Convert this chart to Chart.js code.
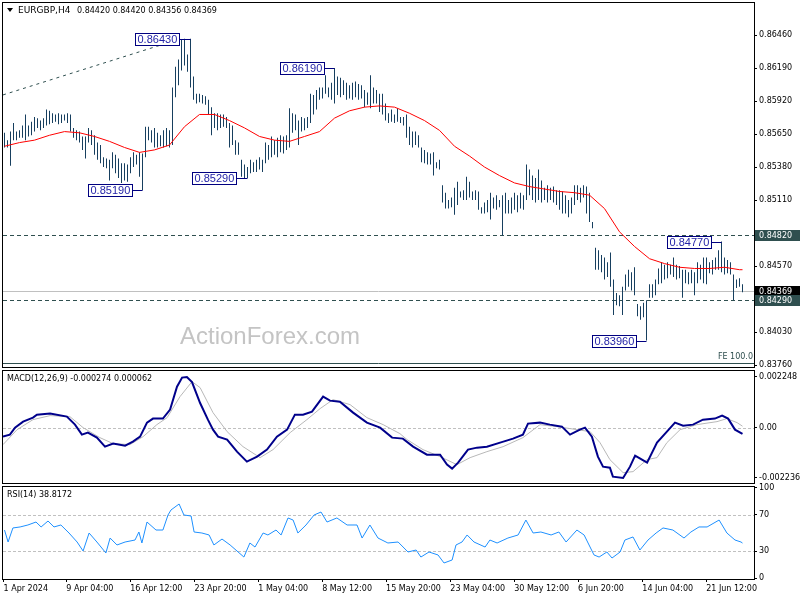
<!DOCTYPE html>
<html>
<head>
<meta charset="utf-8">
<script src="https://cdn.jsdelivr.net/npm/chart.js@4/dist/chart.umd.min.js"></script>
<style>
    html, body { margin: 0; padding: 0; background: #fff; }
    #wrap { position: relative; width: 800px; height: 600px; }
    #wrap canvas { position: absolute; left: 0; top: 0; }
</style>
</head>
<body>
<div id="wrap">
    <canvas id="price" width="800" height="600"></canvas>
    <canvas id="macd" width="800" height="600"></canvas>
    <canvas id="rsi" width="800" height="600"></canvas>
</div>
<script>
const symbolName = 'EURGBP,H4'
const lastBar = [0.84420, 0.84420, 0.84356, 0.84369] // open, high, low, close

// H4 bars, high / low
const highs = [
    0.8566, 0.8560, 0.8567, 0.8574, 0.8567, 0.8568, 0.8572, 0.8581, 0.8572, 0.8575,
    0.8579, 0.8578, 0.8576, 0.8578, 0.8585, 0.8584, 0.8582, 0.8581, 0.8582, 0.8581,
    0.8581, 0.8582, 0.8581, 0.8570, 0.8568, 0.8567, 0.8563, 0.8563, 0.8570, 0.8568,
    0.8564, 0.8558, 0.8556, 0.8546, 0.8545, 0.8544, 0.8550, 0.8548, 0.8545, 0.8541,
    0.8541, 0.8540, 0.8546, 0.8550, 0.8548, 0.8550, 0.8549, 0.8571, 0.8571, 0.8568,
    0.8570, 0.8566, 0.8564, 0.8568, 0.8570, 0.8568, 0.8603, 0.8620, 0.8626, 0.8642,
    0.8643, 0.8630, 0.8643, 0.8612, 0.8598, 0.8598, 0.8597, 0.8596, 0.8593, 0.8587,
    0.8582, 0.8582, 0.8581, 0.8581, 0.8579, 0.8574, 0.8572, 0.8560, 0.8558, 0.8544,
    0.8540, 0.8538, 0.8544, 0.8542, 0.8544, 0.8546, 0.8544, 0.8558, 0.8556, 0.8563,
    0.8560, 0.8562, 0.8564, 0.8563, 0.8564, 0.8586, 0.8582, 0.8581, 0.8576, 0.8579,
    0.8578, 0.8579, 0.8598, 0.8597, 0.8601, 0.8603, 0.8603, 0.8613, 0.8603, 0.8607,
    0.8619, 0.8612, 0.8611, 0.8609, 0.8607, 0.8605, 0.8607, 0.8608, 0.8606, 0.8605,
    0.8601, 0.8599, 0.8613, 0.8603, 0.8601, 0.8598, 0.8598, 0.8590, 0.8582, 0.8585,
    0.8581, 0.8586, 0.8579, 0.8579, 0.8581, 0.8571, 0.8567, 0.8567, 0.8564, 0.8554,
    0.8552, 0.8550, 0.8549, 0.8550, 0.8542, 0.8544, 0.8523, 0.8517, 0.8511, 0.8513,
    0.8521, 0.8526, 0.8518, 0.8519, 0.8530, 0.8526, 0.8518, 0.8519, 0.8518, 0.8505,
    0.8509, 0.8511, 0.8517, 0.8513, 0.8515, 0.8511, 0.8515, 0.8517, 0.8511, 0.8513,
    0.8517, 0.8515, 0.8517, 0.8515, 0.8540, 0.8536, 0.8531, 0.8529, 0.8536, 0.8527,
    0.8521, 0.8523, 0.8521, 0.8522, 0.8519, 0.8519, 0.8518, 0.8515, 0.8511, 0.8513,
    0.8523, 0.8523, 0.8521, 0.8523, 0.8522, 0.8517, 0.8493, 0.8472, 0.8470, 0.8466,
    0.8464, 0.8460, 0.8468, 0.8446, 0.8435, 0.8433, 0.8440, 0.8450, 0.8454, 0.8452,
    0.8456, 0.8426, 0.8424, 0.8427, 0.8429, 0.8442, 0.8442, 0.8446, 0.8455, 0.8460,
    0.8458, 0.8460, 0.8458, 0.8464, 0.8458, 0.8457, 0.8454, 0.8454, 0.8452, 0.8454,
    0.8452, 0.8460, 0.8458, 0.8464, 0.8464, 0.8460, 0.8462, 0.8464, 0.8470, 0.8477,
    0.8464, 0.8462, 0.8460, 0.8450, 0.8446, 0.8447, 0.8442
]
const lows = [
    0.8554, 0.8554, 0.8539, 0.8560, 0.8560, 0.8562, 0.8562, 0.8560, 0.8563, 0.8564,
    0.8567, 0.8570, 0.8568, 0.8570, 0.8572, 0.8573, 0.8574, 0.8575, 0.8573, 0.8574,
    0.8576, 0.8574, 0.8567, 0.8562, 0.8560, 0.8558, 0.8552, 0.8545, 0.8558, 0.8556,
    0.8548, 0.8544, 0.8541, 0.8538, 0.8537, 0.8527, 0.8537, 0.8533, 0.8529, 0.8525,
    0.8527, 0.8526, 0.8533, 0.8538, 0.8540, 0.8530, 0.8519, 0.8546, 0.8560, 0.8558,
    0.8554, 0.8554, 0.8555, 0.8554, 0.8555, 0.8554, 0.8556, 0.8595, 0.8605, 0.8617,
    0.8621, 0.8616, 0.8603, 0.8593, 0.8590, 0.8591, 0.8590, 0.8589, 0.8581, 0.8564,
    0.8570, 0.8568, 0.8570, 0.8571, 0.8570, 0.8554, 0.8556, 0.8548, 0.8548, 0.8530,
    0.8529, 0.8529, 0.8533, 0.8534, 0.8534, 0.8536, 0.8534, 0.8541, 0.8544, 0.8546,
    0.8548, 0.8546, 0.8550, 0.8549, 0.8552, 0.8554, 0.8566, 0.8568, 0.8556, 0.8567,
    0.8568, 0.8570, 0.8574, 0.8581, 0.8585, 0.8593, 0.8594, 0.8598, 0.8595, 0.8593,
    0.8590, 0.8597, 0.8595, 0.8597, 0.8593, 0.8594, 0.8593, 0.8595, 0.8593, 0.8594,
    0.8587, 0.8589, 0.8586, 0.8590, 0.8590, 0.8583, 0.8581, 0.8576, 0.8574, 0.8575,
    0.8574, 0.8575, 0.8574, 0.8572, 0.8562, 0.8556, 0.8554, 0.8556, 0.8554, 0.8542,
    0.8541, 0.8540, 0.8540, 0.8531, 0.8537, 0.8536, 0.8509, 0.8504, 0.8504, 0.8505,
    0.8499, 0.8507, 0.8513, 0.8511, 0.8511, 0.8513, 0.8511, 0.8511, 0.8503, 0.8500,
    0.8500, 0.8501, 0.8495, 0.8504, 0.8503, 0.8505, 0.8482, 0.8500, 0.8500, 0.8500,
    0.8503, 0.8501, 0.8504, 0.8503, 0.8511, 0.8515, 0.8511, 0.8509, 0.8511, 0.8509,
    0.8511, 0.8509, 0.8511, 0.8509, 0.8507, 0.8503, 0.8500, 0.8500, 0.8497, 0.8500,
    0.8507, 0.8511, 0.8509, 0.8513, 0.8500, 0.8493, 0.8488, 0.8454, 0.8454, 0.8452,
    0.8446, 0.8448, 0.8440, 0.8417, 0.8425, 0.8424, 0.8417, 0.8437, 0.8440, 0.8437,
    0.8433, 0.8416, 0.8413, 0.8415, 0.8396, 0.8431, 0.8431, 0.8433, 0.8442, 0.8443,
    0.8446, 0.8447, 0.8450, 0.8448, 0.8446, 0.8447, 0.8431, 0.8443, 0.8442, 0.8443,
    0.8433, 0.8443, 0.8446, 0.8443, 0.8442, 0.8451, 0.8450, 0.8454, 0.8454, 0.8452,
    0.8450, 0.8451, 0.8450, 0.8429, 0.8439, 0.8440, 0.84356
]

// moving average read every 5 bars (last point = last bar)
const lineStep = 5
const maValues = [
    0.8555, 0.8558, 0.8560, 0.8564, 0.8567, 0.8566, 0.8563, 0.8559, 0.8554, 0.8550,
    0.8552, 0.8556, 0.8571, 0.8581, 0.8581, 0.8576, 0.8570, 0.8563, 0.8560, 0.8559,
    0.8563, 0.8567, 0.8578, 0.8584, 0.8587, 0.8588, 0.8587, 0.8582, 0.8576, 0.8568,
    0.8555, 0.8547, 0.8538, 0.8531, 0.8525, 0.8522, 0.8520, 0.8518, 0.8517, 0.8515,
    0.8504, 0.8485, 0.8473, 0.8463, 0.8459, 0.8456, 0.8455, 0.8455, 0.8456, 0.8454, 0.8454
]

// MACD(12,26,9): bar position and value
const macdAt = [
    -0.5, 1.8, 3.5, 6.2, 9.5, 10.8, 15.2, 20.8, 23.5, 25.8,
    27.8, 30.8, 33.5, 36.2, 40.2, 42.8, 45.2, 47.5, 49.5, 52.8,
    55.2, 57.5, 59.2, 60.8, 62.5, 65.2, 67.8, 69.5, 71.2, 74.2,
    77.5, 80.8, 84.2, 87.5, 90.8, 94.2, 96.8, 99.5, 102.5, 106.2,
    108.5, 111.8, 116.2, 120.8, 125.2, 129.2, 132.8, 136.2, 140.8, 145.2,
    147.5, 149.2, 151.2, 154.5, 157.5, 160.8, 165.2, 169.5, 172.8, 174.5,
    178.5, 181.8, 185.8, 188.5, 191.8, 193.5, 195.8, 197.8, 199.5, 201.8,
    202.8, 206.2, 208.5, 210.2, 212.5, 214.2, 217.5, 220.8, 223.5, 226.2,
    229.5, 232.8, 236.8, 239.2, 241.2, 243.5, 246
]
const macdValues = [
    -0.0004, -0.000311, 0, 0.000266, 0.000444, 0.000577, 0.000622, 0.000488, 0.000133, -0.000311,
    -0.000222, -0.000444, -0.000844, -0.00071, -0.000799, -0.000622, -0.0004, 0.000222, 0.0004, 0.0004,
    0.000799, 0.00182, 0.00222, 0.002248, 0.002024, 0.001092, 0.000355, -0.000089, -0.0004, -0.000533,
    -0.001066, -0.00151, -0.001288, -0.000977, -0.0004, -0.000089, 0.000577, 0.000577, 0.00071, 0.001377,
    0.001199, 0.001154, 0.000666, 0.000222, 0, -0.000444, -0.000488, -0.000844, -0.001199, -0.001199,
    -0.001643, -0.00182, -0.001554, -0.000977, -0.000888, -0.000844, -0.000666, -0.000488, -0.000311, 0.000178,
    0.000222, 0.000133, 0.000044, -0.000311, -0.000089, 0, -0.0004, -0.001288, -0.001732, -0.001776,
    -0.002176, -0.002236, -0.001732, -0.001243, -0.001421, -0.001554, -0.000666, -0.000178, 0.000222, 0.000089,
    0.000133, 0.000355, 0.0004, 0.000533, 0.0004, -0.000089, -0.000274
]
const signalAt = [
    -0.5, 4.2, 9.5, 15.2, 21.8, 26.2, 31.8, 36.2, 41.8, 46.2,
    50.8, 54.2, 58.5, 62.5, 65.2, 69.5, 74.2, 79.5, 85.2, 89.5,
    95.2, 100.8, 105.2, 109.5, 115.2, 120.8, 126.2, 131.8, 134.2, 139.5,
    145.2, 150.8, 155.2, 160.8, 166.2, 172.8, 178.5, 184.2, 190.8, 195.2,
    198.5, 201.8, 206.2, 209.5, 214.2, 217.5, 220.8, 225.2, 230.8, 237.5,
    240.8, 244.2, 246
]
const signalValues = [
    -0.000755, -0.000089, 0.000355, 0.000533, 0.000488, 0, -0.000444, -0.00071, -0.000755, -0.0004,
    0.000133, 0.000444, 0.001377, 0.002042, 0.001776, 0.000666, -0.000178, -0.000844, -0.001332, -0.000977,
    -0.000222, 0.000355, 0.000844, 0.001243, 0.001021, 0.000444, 0.000133, -0.000266, -0.000533, -0.000977,
    -0.001288, -0.001643, -0.001332, -0.001066, -0.000844, -0.000444, 0.000133, 0.000044, -0.000089, -0.000178,
    -0.000666, -0.001421, -0.001998, -0.001954, -0.001421, -0.001332, -0.000666, -0.000089, 0.000133, 0.000266,
    0.0004, 0.000222, 0.000062
]

// RSI(14), bar position and value
const rsiAt = [
    0, 1.2, 2.8, 5.2, 7.8, 10.5, 12.2, 14.5, 16.5, 18.8,
    21.5, 24.2, 26.2, 28.2, 30.8, 33.8, 35.2, 37.5, 40.2, 43.5,
    44.8, 45.8, 47.5, 50.5, 52.8, 54.5, 55.5, 58.2, 59.8, 62.2,
    63.2, 65.8, 68.2, 69.8, 72.5, 75.2, 77.5, 79.8, 81.8, 83.5,
    86.2, 87.8, 90.5, 92.2, 94.5, 96.2, 97.8, 100.5, 103.2, 105.5,
    107.5, 110.8, 114.2, 117.5, 119.2, 121.8, 124.5, 127.8, 131.2, 134.5,
    137.2, 138.8, 141.5, 144.5, 146.5, 149.2, 150.5, 152.5, 154.2, 156.5,
    160.2, 161.8, 164.2, 167.8, 171.2, 173.8, 176.2, 178.8, 182.2, 184.8,
    187.2, 190.8, 193.2, 196.5, 198.2, 200.8, 202.5, 205.2, 206.8, 209.5,
    211.8, 214.5, 217.2, 219.5, 222.8, 226.5, 228.8, 231.5, 234.2, 238.2,
    240.8, 243.5, 245.5, 246
]
const rsiValues = [
    53.3, 40.0, 55.6, 56.7, 58.9, 62.2, 56.7, 63.3, 56.7, 58.9,
    50.0, 40.0, 30.0, 50.0, 40.0, 27.8, 44.4, 36.7, 40.0, 42.2,
    51.1, 38.9, 62.2, 53.3, 53.3, 70.0, 75.6, 82.2, 70.0, 68.9,
    51.1, 50.0, 47.8, 36.7, 43.3, 36.7, 30.0, 23.3, 38.9, 34.4,
    50.0, 47.8, 53.3, 47.8, 66.7, 64.4, 50.0, 58.9, 70.0, 73.3,
    62.2, 66.7, 58.9, 58.9, 44.4, 58.9, 44.4, 38.9, 40.0, 28.9,
    31.1, 23.3, 28.9, 25.6, 16.7, 20.0, 36.7, 40.0, 47.8, 40.0,
    34.4, 42.2, 38.9, 44.4, 47.8, 64.4, 50.0, 51.1, 47.8, 51.1,
    40.0, 53.3, 47.8, 25.6, 23.3, 28.9, 22.2, 28.9, 42.2, 45.6,
    31.1, 42.2, 50.0, 55.6, 53.3, 44.4, 51.1, 56.7, 56.7, 64.4,
    50.0, 42.2, 40.0, 38.8172
]

// time axis
const timeAt = [-0.3, 20.6, 41.9, 63.3, 84.6, 105.9, 127.2, 148.6, 169.9, 191.2, 212.6, 233.9]
const timeLabels = ['1 Apr 2024', '9 Apr 04:00', '16 Apr 12:00', '23 Apr 20:00', '1 May 04:00', '8 May 12:00',
    '15 May 20:00', '23 May 04:00', '30 May 12:00', '6 Jun 20:00', '14 Jun 04:00', '21 Jun 12:00']

const priceTicks = [0.8646, 0.8619, 0.8592, 0.8565, 0.8538, 0.8511, 0.8457, 0.8403, 0.8376]
const macdTicks = [-0.002236, 0, 0.002248]
const rsiTicks = [0, 30, 70, 100]
const macdLevels = [0]
const rsiLevels = [30, 70]

// swing highs / lows that carry a label
const swingAt = [46, 62, 81, 110, 214, 239]
const swingPrice = [0.8519, 0.8643, 0.8529, 0.8619, 0.8396, 0.8477]

// drawn levels
const dashedLevels = [0.8482, 0.8429]
const bidPrice = 0.84369
const feLevel = 0.83778
const feLabel = 'FE 100.0'
const feLineAt = [-0.5, 57.5]
const feLinePrice = [0.8597, 0.8642]
const axisBoxPrices = [0.8482, 0.84369, 0.8429]

const axisBoxColors = ['#2f4f4f', '#000000', '#2f4f4f']
const FONT = "'DejaVu Sans', sans-serif"

Chart.defaults.font.family = FONT
Chart.defaults.font.size = 8
Chart.defaults.color = '#000'

const lastIndex = highs.length - 1
const sampled = values => values.map((v, k) => ({ x: Math.min(k * lineStep, lastIndex), y: v }))
const paired = (at, values) => at.map((v, i) => ({ x: v, y: values[i] }))

function xAxis(show) {
    return {
        type: 'linear',
        min: -0.5,
        max: -0.5 + 751 / 3,
        display: show,
        offset: false,
        grid: { offset: false, drawOnChartArea: false, drawTicks: true, tickLength: 3, color: '#000' },
        border: { display: false },
        afterBuildTicks: s => { s.ticks = timeAt.map(v => ({ value: v })) },
        afterFit: s => {
            s.height = show ? 21 : 0
            s.paddingLeft = 0
            s.paddingRight = 0
        },
        ticks: {
            autoSkip: false, maxRotation: 0, minRotation: 0, align: 'start', padding: 2,
            font: { family: FONT, size: 8 }, color: '#000',
            callback: (v, i) => timeLabels[i]
        }
    }
}

function yAxis(min, max, values, fmt) {
    return {
        position: 'right',
        min: min,
        max: max,
        beginAtZero: false,
        grid: { drawOnChartArea: false, drawTicks: true, tickLength: 3, color: '#000' },
        border: { display: false },
        afterBuildTicks: s => { s.ticks = values.map(v => ({ value: v })) },
        afterFit: s => { s.width = 46; s.paddingTop = 0; s.paddingBottom = 0 },
        ticks: { autoSkip: false, padding: 2, font: { family: FONT, size: 8 }, color: '#000', callback: fmt }
    }
}

function frame(chart) {
    const { ctx, chartArea: a } = chart
    ctx.save()
    ctx.strokeStyle = '#000'
    ctx.lineWidth = 1
    ctx.strokeRect(a.left - 0.5, a.top - 0.5, a.right - a.left + 1, a.bottom - a.top + 1)
    ctx.restore()
}

function hLine(chart, value, color, dash) {
    const { ctx, chartArea: a, scales: { y } } = chart
    const py = Math.round(y.getPixelForValue(value)) + 0.5
    ctx.save()
    ctx.strokeStyle = color
    ctx.lineWidth = 1
    ctx.setLineDash(dash)
    ctx.beginPath()
    ctx.moveTo(a.left, py)
    ctx.lineTo(a.right, py)
    ctx.stroke()
    ctx.restore()
}

function panelPlugin(levels, label) {
    return {
        id: 'panel',
        beforeDatasetsDraw(chart) {
            levels.forEach(v => hLine(chart, v, '#c0c0c0', [3, 2]))
        },
        afterDraw(chart) {
            const { ctx, chartArea: a } = chart
            frame(chart)
            ctx.save()
            ctx.font = '8px ' + FONT
            ctx.fillStyle = '#000'
            ctx.textBaseline = 'middle'
            ctx.fillText(label, a.left + 4, a.top + 8)
            ctx.restore()
        }
    }
}

const pricePlugin = {
    id: 'pricePanel',
    beforeDatasetsDraw(chart) {
        const { ctx, chartArea: a, scales: { y } } = chart
        ctx.save()
        ctx.font = '24px "Liberation Sans", Arial, sans-serif'
        ctx.fillStyle = '#c4c4c4'
        ctx.textBaseline = 'middle'
        ctx.fillText('ActionForex.com', 180, 337)
        ctx.restore()

        hLine(chart, bidPrice, '#c0c0c0', [])
        dashedLevels.forEach(v => hLine(chart, v, '#2f4f4f', [4, 3]))
        hLine(chart, feLevel, '#2f4f4f', [])

        ctx.save()
        ctx.font = '8px ' + FONT
        ctx.fillStyle = '#2f4f4f'
        ctx.textAlign = 'right'
        ctx.textBaseline = 'middle'
        ctx.fillText(feLabel, a.right - 1, y.getPixelForValue(feLevel) - 6)
        ctx.restore()
    },
    afterDatasetsDraw(chart) {
        const { ctx, scales: { x, y } } = chart
        ctx.save()
        ctx.font = '11px "Liberation Sans", Arial, sans-serif'
        ctx.textBaseline = 'middle'
        ctx.lineWidth = 1
        swingAt.forEach((idx, n) => {
            const px = x.getPixelForValue(idx)
            const py = Math.round(y.getPixelForValue(swingPrice[n])) + 0.5
            const text = swingPrice[n].toFixed(5)
            const w = Math.round(ctx.measureText(text).width) + 5
            const right = Math.round(px) - 10
            const left = right - w
            ctx.strokeStyle = '#000080'
            ctx.beginPath()
            ctx.moveTo(right, py)
            ctx.lineTo(px, py)
            ctx.stroke()
            ctx.fillStyle = '#fff'
            ctx.fillRect(left, py - 6.5, w, 13)
            ctx.strokeRect(left + 0.5, py - 6, w - 1, 12)
            ctx.fillStyle = '#2424a8'
            ctx.fillText(text, left + 2.5, py + 0.5)
        })
        ctx.restore()
    },
    afterDraw(chart) {
        const { ctx, chartArea: a, scales: { y } } = chart
        frame(chart)
        ctx.save()
        ctx.font = '8px ' + FONT
        ctx.textBaseline = 'middle'
        axisBoxPrices.forEach((v, n) => {
            const py = Math.round(y.getPixelForValue(v))
            ctx.fillStyle = axisBoxColors[n]
            ctx.fillRect(a.right + 1, py - 5, 46, 11)
            ctx.fillStyle = '#fff'
            ctx.fillText(v.toFixed(5), a.right + 5, py + 0.5)
        })

        // title
        ctx.fillStyle = '#000'
        ctx.beginPath()
        ctx.moveTo(7, 8)
        ctx.lineTo(13, 8)
        ctx.lineTo(10, 12)
        ctx.closePath()
        ctx.fill()
        ctx.font = '9px ' + FONT
        ctx.fillText(symbolName, 18, 10.5)
        ctx.font = '8px ' + FONT
        ctx.fillText(lastBar.map(v => v.toFixed(5)).join(' '), 77, 10.5)
        ctx.restore()
    }
}

const baseOptions = {
    animation: false,
    responsive: false,
    events: [],
    plugins: { legend: { display: false }, tooltip: { enabled: false } }
}

new Chart(document.getElementById('price'), {
    type: 'bar',
    data: {
        datasets: [
            {
                type: 'line', order: 0,
                data: sampled(maValues),
                borderColor: '#ff0000', borderWidth: 1, pointRadius: 0, tension: 0
            },
            {
                type: 'line', order: 1,
                data: paired(feLineAt, feLinePrice),
                borderColor: '#2f4f4f', borderWidth: 1, borderDash: [3, 4], pointRadius: 0
            },
            {
                type: 'bar', order: 2,
                data: highs.map((h, i) => ({ x: i, y: [lows[i], h] })),
                backgroundColor: '#173f5f', borderWidth: 0, barThickness: 1, inflateAmount: 0
            }
        ]
    },
    options: {
        ...baseOptions,
        layout: { padding: { left: 3, top: 3, right: 0, bottom: 233 } },
        scales: {
            x: xAxis(false),
            y: yAxis(0.83744, 0.86722, priceTicks, v => v.toFixed(5))
        }
    },
    plugins: [pricePlugin]
})

const macdLast = macdValues[macdValues.length - 1]
const signalLast = signalValues[signalValues.length - 1]
new Chart(document.getElementById('macd'), {
    type: 'line',
    data: {
        datasets: [
            { data: paired(macdAt, macdValues), borderColor: '#00008b', borderWidth: 2, pointRadius: 0, order: 0 },
            { data: paired(signalAt, signalValues), borderColor: '#b8b8b8', borderWidth: 1, pointRadius: 0, order: 1 }
        ]
    },
    options: {
        ...baseOptions,
        layout: { padding: { left: 3, top: 371, right: 0, bottom: 117 } },
        scales: {
            x: xAxis(false),
            y: yAxis(-0.002458, 0.002514, macdTicks, v => v === 0 ? '0.00' : v.toFixed(6))
        }
    },
    plugins: [panelPlugin(macdLevels, 'MACD(12,26,9) ' + macdLast.toFixed(6) + ' ' + signalLast.toFixed(6))]
})

const rsiLast = rsiValues[rsiValues.length - 1]
new Chart(document.getElementById('rsi'), {
    type: 'line',
    data: {
        datasets: [
            {
                data: paired(rsiAt, rsiValues),
                borderColor: '#1e90ff', borderWidth: 1, pointRadius: 0
            }
        ]
    },
    options: {
        ...baseOptions,
        layout: { padding: { left: 3, top: 487, right: 0, bottom: 0 } },
        scales: {
            x: xAxis(true),
            y: yAxis(-1.1, 101.1, rsiTicks, v => String(v))
        }
    },
    plugins: [panelPlugin(rsiLevels, 'RSI(14) ' + rsiLast.toFixed(4))]
})
</script>
</body>
</html>
